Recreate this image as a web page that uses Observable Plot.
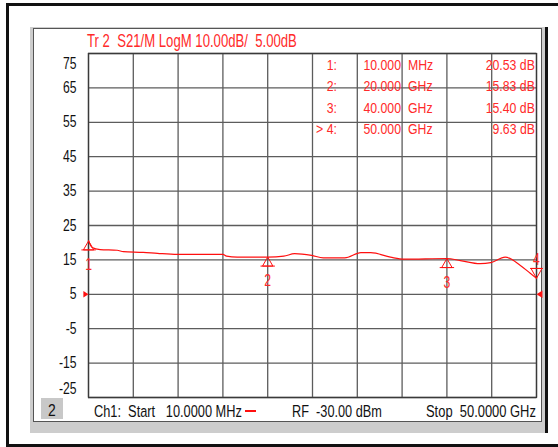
<!DOCTYPE html>
<html><head><meta charset="utf-8">
<script src="https://cdn.jsdelivr.net/npm/d3@7"></script>
<script src="https://cdn.jsdelivr.net/npm/@observablehq/plot@0.6"></script>
<style>
html,body{margin:0;padding:0;background:#fff;}
#wrap{position:relative;width:558px;height:447px;overflow:hidden;background:#fff;}
.outer{position:absolute;left:6px;top:3px;width:600px;height:444px;border:3px solid #111;box-sizing:border-box;}
.shadow{position:absolute;left:30px;top:27px;width:515px;height:406px;background:#cdcdcd;}
.shadowR{position:absolute;left:545px;top:27px;width:3px;height:406px;background:#111;}
.panel{position:absolute;left:33px;top:28px;width:509px;height:394px;background:#fff;border:1px solid #555;box-sizing:border-box;}
#chart,#over{position:absolute;left:0;top:0;}
#over text{white-space:pre;font-family:"Liberation Sans",Arial,sans-serif;}
</style></head>
<body>
<div id="wrap">
  <div class="outer"></div>
  <div class="shadow"></div>
  <div class="shadowR"></div>
  <div class="panel"></div>
  <div id="chart"></div>
  <svg id="over" width="558" height="447"></svg>
</div>
<script>
// ---- data ----
const freqGHz = [0.01, 0.4, 1.3, 3.2, 3.9, 6.1, 7.7, 9.9, 15.0, 15.4, 16.6, 20.0, 21.8, 23.0, 24.9, 26.2, 28.6, 30.4, 31.5, 33.7, 35.2, 40.0, 41.5, 43.7, 44.9, 46.5, 48.2, 49.3, 50.0];
const s21dB   = [20.53, 18.6, 18.0, 17.8, 17.4, 17.2, 16.9, 16.6, 16.6, 16.1, 15.8, 15.83, 16.1, 16.8, 16.3, 15.6, 15.6, 17.1, 17.1, 15.8, 15.2, 15.40, 14.8, 13.9, 14.2, 15.8, 13.4, 11.1, 9.63];
const markerNo    = [1, 2, 3, 4];
const markerLabel = ["1:", "2:", "3:", "> 4:"];
const markerFreq  = [0.01, 20, 40, 50];
const markerFreqText = ["10.000", "20.000", "40.000", "50.000"];
const markerUnit  = ["MHz", "GHz", "GHz", "GHz"];
const markerDB    = [20.53, 15.83, 15.40, 9.63];
const yTicks = [75, 65, 55, 45, 35, 25, 15, 5, -5, -15, -25];
const xTicks = [0, 5, 10, 15, 20, 25, 30, 35, 40, 45, 50];
const refLevel = [5];
const titleText = "Tr 2  S21/M LogM 10.00dB/  5.00dB";
const footStart = "Ch1:  Start   10.0000 MHz";
const footRF = "RF  -30.00 dBm";
const footStop = "Stop  50.0000 GHz";
const channelBadge = "2";

const RED = "#ff1010";
const TXT = "#ff2a2a";
const trace = freqGHz.map((f, i) => ({f, db: s21dB[i]}));
const markers = markerNo.map((n, i) => ({n, f: markerFreq[i], db: markerDB[i]}));

// symbols (apex at the data point)
const triUp = {draw(c, size){ const h = Math.sqrt(size); const w = h * 1.15; c.moveTo(0,0); c.lineTo(w/2,h); c.lineTo(-w/2,h); c.closePath(); c.moveTo(-w/2-2,h); c.lineTo(w/2+2,h);} };
const triDown = {draw(c, size){ const h = Math.sqrt(size); const w = h * 1.1; c.moveTo(0,0); c.lineTo(w/2,-h); c.lineTo(-w/2,-h); c.closePath(); c.moveTo(-w/2-1,-h); c.lineTo(w/2+1,-h);} };
const arrowR = {draw(c, size){ const h = Math.sqrt(size); c.moveTo(0,0); c.lineTo(-h*0.8,-h/2); c.lineTo(-h*0.8,h/2); c.closePath();} };
const arrowL = {draw(c, size){ const h = Math.sqrt(size); c.moveTo(0,0); c.lineTo(h*0.8,-h/2); c.lineTo(h*0.8,h/2); c.closePath();} };

const FONT = "'Liberation Sans', Arial, sans-serif";
const chart = Plot.plot({
  width: 558, height: 447,
  marginLeft: 88, marginRight: 22, marginTop: 53, marginBottom: 50,
  style: {background: "transparent", fontFamily: FONT},
  x: {domain: [0, 50], axis: null},
  y: {domain: [-25, 75], axis: null},
  marks: [
    Plot.ruleY(yTicks, {stroke: "#5c5c5c", strokeWidth: 1.3}),
    Plot.ruleX(xTicks, {stroke: "#5c5c5c", strokeWidth: 1.3}),
    Plot.frame({stroke: "#3a3a3a", strokeWidth: 1.3}),
    Plot.line(trace, {x: "f", y: "db", stroke: RED, strokeWidth: 1.2, curve: "monotone-x"}),
    Plot.dot(markers.filter(d => d.n !== 4), {x: "f", y: "db", symbol: triUp, r: 5.1, stroke: RED, strokeWidth: 1, fill: "none"}),
    Plot.dot(markers.filter(d => d.n === 4), {x: "f", y: "db", symbol: triDown, r: 5.6, stroke: RED, strokeWidth: 1, fill: "none"}),
    Plot.text(markers.filter(d => d.n !== 4), {x: "f", y: "db", text: d => String(d.n), dy: 24, fill: TXT, fontSize: 16, fontFamily: FONT}),
    Plot.text(markers.filter(d => d.n === 4), {x: "f", y: "db", text: d => String(d.n), dy: -18, fill: TXT, fontSize: 16, fontFamily: FONT}),
    Plot.dot(refLevel, {y: d => d, frameAnchor: "left", symbol: arrowR, r: 3.6, fill: RED, stroke: "none"}),
    Plot.dot(refLevel, {y: d => d, frameAnchor: "right", symbol: arrowL, r: 4.2, fill: RED, stroke: "none"}),
    Plot.text(yTicks.filter(d => d !== 75 && d !== -25), {y: d => d, frameAnchor: "left", text: d => String(d), textAnchor: "end", dx: -12, fill: "#111", fontSize: 16, fontFamily: FONT}),
    Plot.text([75], {y: d => d, frameAnchor: "left", text: d => String(d), textAnchor: "end", dx: -12, dy: 10, fill: "#111", fontSize: 16, fontFamily: FONT}),
    Plot.text([-25], {y: d => d, frameAnchor: "left", text: d => String(d), textAnchor: "end", dx: -12, dy: -9, fill: "#111", fontSize: 16, fontFamily: FONT})
  ]
});
document.getElementById("chart").appendChild(chart);
// condense chart texts (narrow instrument font)
d3.select(chart).selectAll("text").each(function(){
  const w = this.getComputedTextLength();
  if (w > 0) { this.setAttribute("textLength", (w * 0.76).toFixed(1)); this.setAttribute("lengthAdjust", "spacingAndGlyphs"); }
});

// ---- overlay texts (horizontally condensed with a scale transform) ----
const over = d3.select("#over");
function txt(s, x, y, opts) {
  const t = over.append("text").attr("x", 0).attr("y", 0).text(s)
    .attr("font-size", opts.size).attr("fill", opts.fill);
  const nat = t.node().getComputedTextLength();
  const target = opts.w || nat * (opts.k || 0.82);
  const k = target / nat;
  const anchor = opts.anchor || "start";
  const x0 = anchor === "end" ? x - target : anchor === "middle" ? x - target / 2 : x;
  t.attr("transform", `translate(${x0.toFixed(1)},${y}) scale(${k.toFixed(4)},1)`);
  return t;
}
txt(titleText, 87, 47, {size: 17.5, fill: TXT, w: 210});
markerNo.forEach((n, i) => {
  const y = 70 + i * 21.3;
  txt(markerLabel[i], 337, y, {size: 15, fill: TXT, anchor: "end"});
  txt(markerFreqText[i], 401, y, {size: 15, fill: TXT, anchor: "end"});
  txt(markerUnit[i], 408, y, {size: 15, fill: TXT});
  txt(markerDB[i].toFixed(2) + " dB", 535, y, {size: 15, fill: TXT, anchor: "end"});
});
over.append("rect").attr("x", 41).attr("y", 398).attr("width", 22).attr("height", 21).attr("fill", "#c8c8c8");
txt(channelBadge, 52, 416, {size: 17, fill: "#111", anchor: "middle"});
txt(footStart, 94, 417, {size: 16.5, fill: "#111", w: 148});
over.append("line").attr("x1", 245).attr("x2", 256).attr("y1", 411).attr("y2", 411).attr("stroke", RED).attr("stroke-width", 2);
txt(footRF, 292, 417, {size: 16.5, fill: "#111", w: 90});
txt(footStop, 426, 417, {size: 16.5, fill: "#111", w: 110});
</script>
</body></html>
